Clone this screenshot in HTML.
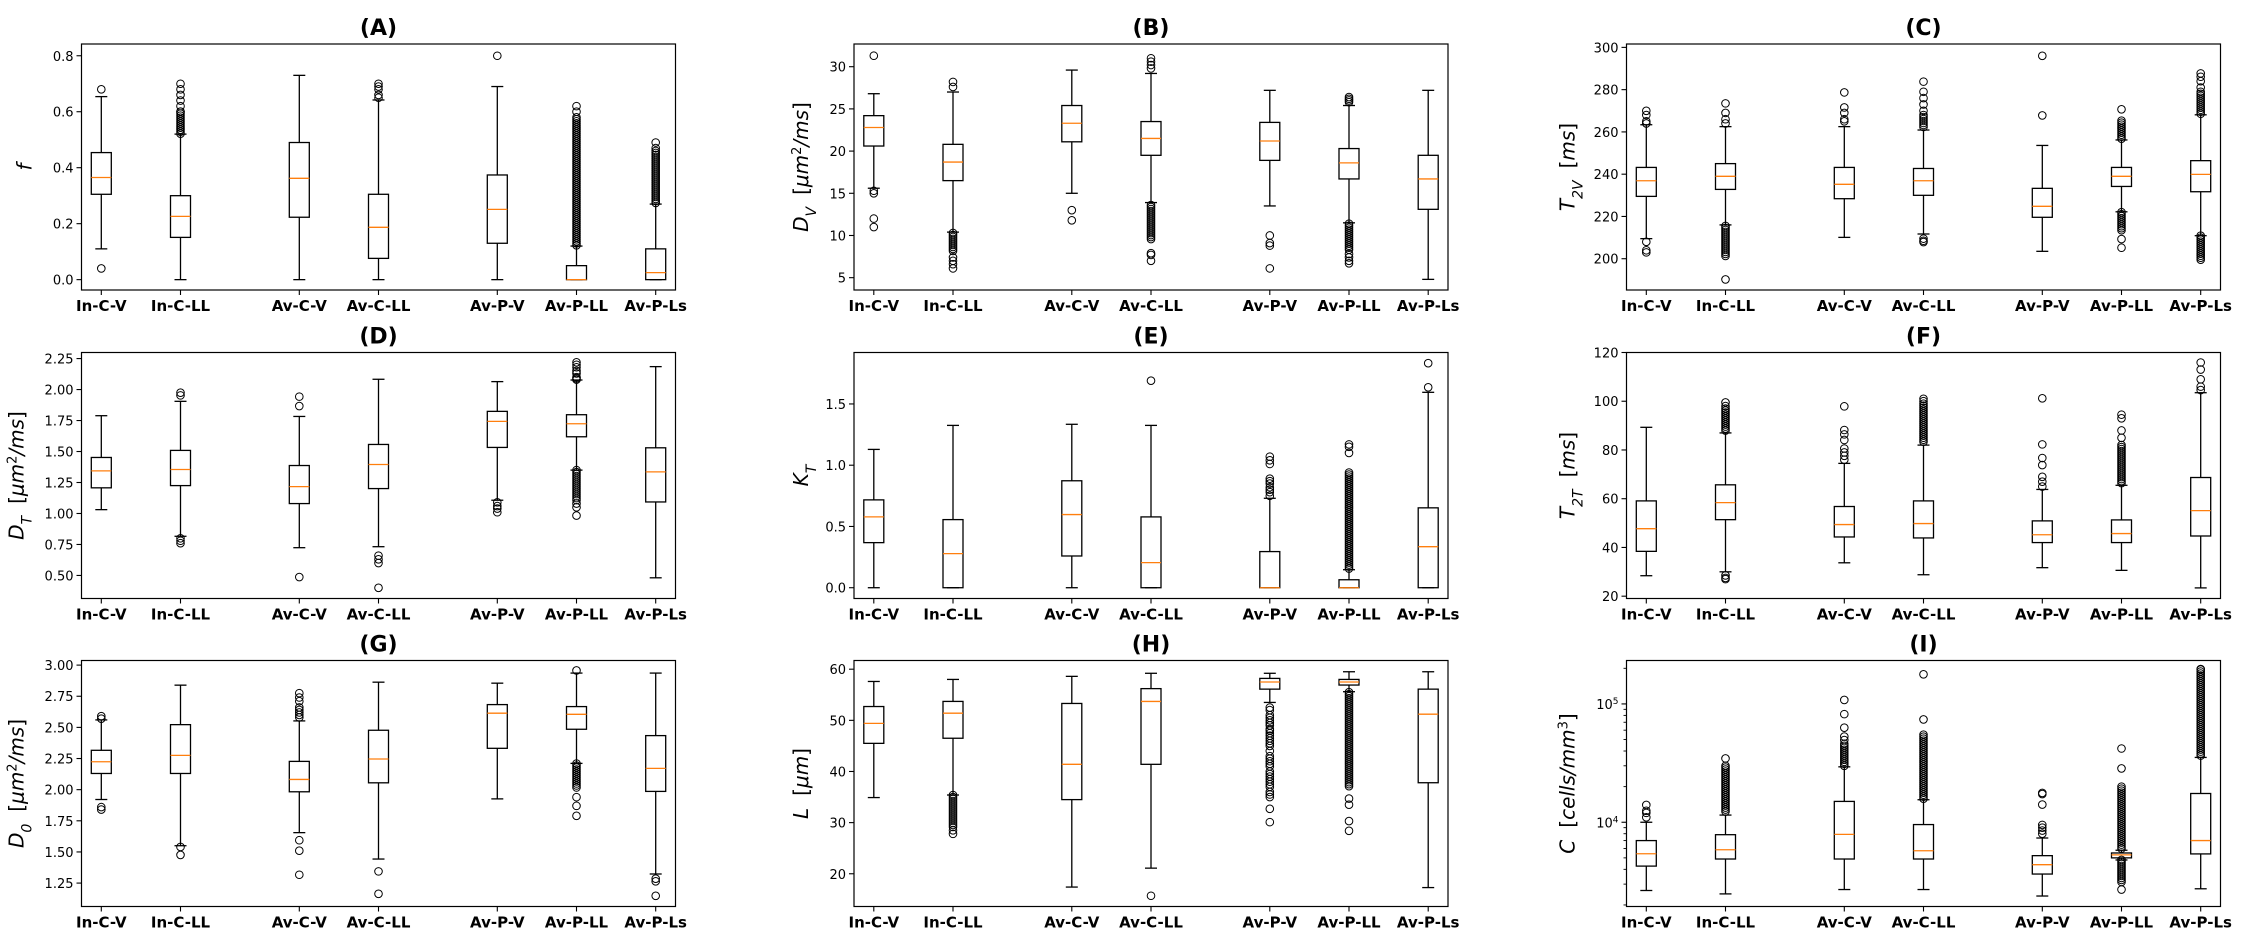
<!DOCTYPE html>
<html><head><meta charset="utf-8"><title>Box plots</title>
<style>
html,body{margin:0;padding:0;background:#fff;}
svg{display:block;font-family:"DejaVu Sans","Liberation Sans",sans-serif;}
</style></head>
<body>
<svg id="fig" width="2245" height="943" viewBox="0 0 2245 943" xmlns="http://www.w3.org/2000/svg"></svg>
<script>
const categories = ["In-C-V","In-C-LL","Av-C-V","Av-C-LL","Av-P-V","Av-P-LL","Av-P-Ls"];
const positions = [1,2,3.5,4.5,6,7,8];

// Panel A : f
const A_lo=[0.11,0.0,0.0,0.0,0.0,0.0,0.0];
const A_q1=[0.305,0.151,0.223,0.076,0.13,0.0,0.0];
const A_med=[0.365,0.226,0.362,0.187,0.251,0.0,0.025];
const A_q3=[0.454,0.30,0.49,0.305,0.374,0.05,0.11];
const A_hi=[0.654,0.52,0.73,0.642,0.69,0.12,0.27];
const A_out=[[0.68,0.04],[0.70,0.68,0.66,0.64,0.62,0.60],[],[0.70,0.69,0.68,0.66,0.65],[0.80],[0.62,0.60],[0.49,0.47]];
const A_dense=[[],[[0.52,0.60]],[],[],[],[[0.12,0.58]],[[0.27,0.46]]];
const A_ticks=[0,0.2,0.4,0.6,0.8];
const A_tickLabels=["0.0","0.2","0.4","0.6","0.8"];

// Panel B : D_V
const B_lo=[15.6,10.4,15.0,13.9,13.5,11.5,4.8];
const B_q1=[20.6,16.5,21.1,19.5,18.9,16.7,13.1];
const B_med=[22.8,18.7,23.3,21.5,21.2,18.6,16.7];
const B_q3=[24.2,20.8,25.4,23.5,23.4,20.3,19.5];
const B_hi=[26.8,27.0,29.6,29.2,27.2,25.4,27.2];
const B_out=[[31.3,15.3,15.0,12.0,11.0],[28.2,27.6,7.4,7.0,6.6,6.1],[13.0,11.8],[31.0,30.6,30.2,29.8,7.9,7.7,7.0],[10.0,9.1,8.8,6.1],[26.4,26.2,26.0,25.8,7.8,7.4,7.0,6.7],[]];
const B_dense=[[],[[8.0,10.3]],[],[[9.5,13.6]],[],[[8.2,11.4]],[]];
const B_ticks=[5,10,15,20,25,30];
const B_tickLabels=["5","10","15","20","25","30"];

// Panel C : T_2V
const C_lo=[209.5,216,210.1,211.7,203.5,222.2,210.9];
const C_q1=[229.5,232.8,228.4,230,219.6,234.2,231.7];
const C_med=[236.9,239,235.2,236.9,224.8,239,239.9];
const C_q3=[243.2,245,243.2,242.7,233.3,243.2,246.4];
const C_hi=[263.4,262.5,262.5,260.9,253.6,256.2,268.1];
const C_out=[[270,268,265,264,208,204,203],[273.5,269,266,264,190.2],[278.7,271.6,269,266,265],[283.8,279,276,273,270,209.5,208.5,207.9],[296,267.8],[270.7,209.3,205.2],[287.7,286.1,284,281]];
const C_dense=[[],[[200.5,215.5]],[],[[261.5,268]],[],[[256.5,265.3],[212.8,222]],[[268,279],[198.6,210.9]]];
const C_ticks=[200,220,240,260,280,300];
const C_tickLabels=["200","220","240","260","280","300"];

// Panel D : D_T
const D_lo=[1.031,0.816,0.724,0.732,1.107,1.35,0.481];
const D_q1=[1.207,1.225,1.08,1.201,1.533,1.619,1.093];
const D_med=[1.344,1.355,1.217,1.395,1.743,1.724,1.336];
const D_q3=[1.452,1.509,1.387,1.557,1.824,1.797,1.53];
const D_hi=[1.789,1.905,1.783,2.083,2.064,2.077,2.185];
const D_out=[[],[1.975,1.953,0.80,0.78,0.76],[1.943,1.867,0.487],[0.66,0.63,0.60,0.40],[1.09,1.06,1.04,1.01],[2.22,2.20,2.18,2.15,2.13,2.10,2.09,2.08,1.08,1.05,0.983],[]];
const D_dense=[[],[],[],[],[],[[1.1,1.35]],[]];
const D_ticks=[0.5,0.75,1.0,1.25,1.5,1.75,2.0,2.25];
const D_tickLabels=["0.50","0.75","1.00","1.25","1.50","1.75","2.00","2.25"];

// Panel E : K_T
const E_lo=[0,0,0,0,0,0,0];
const E_q1=[0.368,0,0.259,0,0,0,0];
const E_med=[0.578,0.278,0.597,0.205,0,0,0.335];
const E_q3=[0.717,0.556,0.873,0.578,0.295,0.065,0.652];
const E_hi=[1.129,1.325,1.334,1.325,0.73,0.147,1.595];
const E_out=[[],[],[],[1.69],[1.07,1.04,1.01,0.89,0.87,0.85,0.82,0.80,0.78,0.75],[1.17,1.15,1.10],[1.636,1.833]];
const E_dense=[[],[],[],[],[],[[0.15,0.94]],[]];
const E_ticks=[0,0.5,1.0,1.5];
const E_tickLabels=["0.0","0.5","1.0","1.5"];

// Panel F : T_2T
const F_lo=[28.4,30.0,33.7,28.8,31.7,30.6,23.4];
const F_q1=[38.4,51.4,44.3,43.9,42,42,44.7];
const F_med=[47.7,58.4,49.4,49.8,45.2,45.7,55.1];
const F_q3=[59.1,65.7,56.8,59.1,50.9,51.3,68.7];
const F_hi=[89.3,87,74.5,82.0,63.8,65.5,103.5];
const F_out=[[],[99.5,98,28.5,27.5,27],[97.9,88.2,86.4,84.1,80.6,79,77.6,76],[101,100],[101.2,82.3,76.7,73.8,69,67,65],[94.5,93,88,85],[115.9,113,109,106,104.6]];
const F_dense=[[],[[87.5,97]],[],[[83,99]],[],[[66,82]],[]];
const F_ticks=[20,40,60,80,100,120];
const F_tickLabels=["20","40","60","80","100","120"];

// Panel G : D_0
const G_lo=[1.921,1.55,1.655,1.443,1.926,2.211,1.323];
const G_q1=[2.13,2.13,1.983,2.055,2.332,2.485,1.986];
const G_med=[2.224,2.275,2.082,2.246,2.614,2.605,2.171];
const G_q3=[2.316,2.522,2.227,2.477,2.683,2.667,2.434];
const G_hi=[2.56,2.839,2.552,2.863,2.855,2.936,2.936];
const G_out=[[2.59,2.57,1.86,1.84],[1.54,1.476],[2.775,2.74,2.71,2.66,2.64,2.62,2.60,2.58,1.594,1.51,1.317],[1.344,1.164],[],[2.957,1.94,1.87,1.79],[1.285,1.264,1.148]];
const G_dense=[[],[],[],[],[],[[2.01,2.21]],[]];
const G_ticks=[1.25,1.5,1.75,2.0,2.25,2.5,2.75,3.0];
const G_tickLabels=["1.25","1.50","1.75","2.00","2.25","2.50","2.75","3.00"];

// Panel H : L
const H_lo=[34.9,35.4,17.4,21.1,53.5,55.6,17.3];
const H_q1=[45.5,46.5,34.5,41.4,56.1,56.9,37.8];
const H_med=[49.4,51.4,41.4,53.7,57.5,57.5,51.2];
const H_q3=[52.7,53.7,53.3,56.2,58.2,58.0,56.1];
const H_hi=[57.6,58.0,58.6,59.2,59.2,59.5,59.5];
const H_out=[[],[28.5,27.8],[],[15.7],[52.5,52,51,50.5,50,49.5,49,48.3,48,47.5,47,46.5,46,45.5,45,44,43,42.5,42,41.5,41,40,39.5,39,38.5,38,37.5,37,36,35.5,35,32.7,30.1],[34.7,33.5,30.3,28.4],[]];
const H_dense=[[],[[29,35.4]],[],[],[],[[37,55.5]],[]];
const H_ticks=[20,30,40,50,60];
const H_tickLabels=["20","30","40","50","60"];

// Panel I : C (log scale)
const I_lo=[2650,2480,2700,2700,2380,4800,2740];
const I_q1=[4260,4890,4890,4890,3650,5000,5400];
const I_med=[5420,5860,7900,5740,4380,5300,7000];
const I_q3=[7000,7850,15000,9560,5220,5500,17500];
const I_hi=[10000,11500,29400,15500,7360,5800,35300];
const I_out=[[14000,12500,12000,11000],[34600,30000],[108000,82000,63000,53000,49500],[178000,74000],[17700,17300,14100,9500,9000,8500,8000],[42000,28500,2700],[197000]];
const I_dense=[[],[[12000,29000]],[[29500,46000]],[[15500,55000]],[],[[5800,20000],[3100,4800]],[[36000,195000]]];
const I_ticks=[10000,100000];
const I_tickLabels=["4","5"];
const I_minorTicks=[2000,3000,4000,5000,6000,7000,8000,9000,20000,30000,40000,50000,60000,70000,80000,90000,200000];

const NS="http://www.w3.org/2000/svg";
const svg=document.getElementById('fig');
const PW=594, PH=246, XMIN=0.75, XMAX=8.25;

function mk(tag,attrs,parent){
  const e=document.createElementNS(NS,tag);
  for(const k in attrs) e.setAttribute(k,attrs[k]);
  (parent||svg).appendChild(e);
  return e;
}

function drawPanel(cfg){
  const g=mk('g',{});
  
  
  const L=cfg.left, T=cfg.top;
  const tf=v=>cfg.log?Math.log10(v):v;
  const y=v=>T+(cfg.ymax-tf(v))/(cfg.ymax-cfg.ymin)*PH;
  const x=p=>L+(p-XMIN)/(XMAX-XMIN)*PW;

  const tt=mk('text',{x:L+PW/2,y:T-9,'text-anchor':'middle','font-size':'22','font-weight':'bold',fill:'#000'},g);
  tt.textContent='('+cfg.id+')';
  
  

  const yl=mk('text',{x:0,y:0,'text-anchor':'middle','font-size':'20',fill:'#000',transform:`translate(${L-cfg.ylabDx},${T+PH/2}) rotate(-90)`},g);
  yl.innerHTML=cfg.ylabel;
  
  

  for(let i=0;i<categories.length;i++){
    const bg=mk('g',{},g);
    
    
    const cx=x(positions[i]);
    const yl1=y(cfg.lo[i]), yq1=y(cfg.q1[i]), ym=y(cfg.med[i]), yq3=y(cfg.q3[i]), yh=y(cfg.hi[i]);
    mk('line',{x1:cx,x2:cx,y1:yq1,y2:yl1,stroke:'#000','stroke-width':1.3},bg);
    mk('line',{x1:cx,x2:cx,y1:yq3,y2:yh,stroke:'#000','stroke-width':1.3},bg);
    mk('line',{x1:cx-6,x2:cx+6,y1:yl1,y2:yl1,stroke:'#000','stroke-width':1.3},bg);
    mk('line',{x1:cx-6,x2:cx+6,y1:yh,y2:yh,stroke:'#000','stroke-width':1.3},bg);
    mk('rect',{x:cx-10,y:yq3,width:20,height:Math.max(0.5,yq1-yq3),fill:'none',stroke:'#000','stroke-width':1.3},bg);
    mk('line',{x1:cx-10,x2:cx+10,y1:ym,y2:ym,stroke:'#ff7f0e','stroke-width':1.3},bg);
    cfg.dense[i].forEach(sp=>{
      const ya=y(sp[1]), yb=y(sp[0]);
      for(let yy=ya; yy<=yb; yy+=2){
        mk('circle',{cx:cx,cy:yy,r:3.8,fill:'none',stroke:'#000','stroke-width':1},bg);
      }
    });
    cfg.out[i].forEach(v=>{
      mk('circle',{cx:cx,cy:y(v),r:3.8,fill:'none',stroke:'#000','stroke-width':1},bg);
    });
  }

  const fr=mk('rect',{x:L,y:T,width:PW,height:PH,fill:'none',stroke:'#000','stroke-width':1.2},g);
  
  

  const ya=mk('g',{},g);
  
  
  cfg.ticks.forEach((v,j)=>{
    const yy=y(v);
    mk('line',{x1:L-5,x2:L,y1:yy,y2:yy,stroke:'#000','stroke-width':1.1},ya);
    const t=mk('text',{x:L-8,y:yy+5,'text-anchor':'end','font-size':'13',fill:'#000'},ya);
    if(cfg.log){ t.innerHTML='10<tspan baseline-shift="super" font-size="9">'+cfg.tickLabels[j]+'</tspan>'; }
    else t.textContent=cfg.tickLabels[j];
  });
  if(cfg.minor){
    cfg.minor.forEach(v=>{
      const yy=y(v);
      if(yy>=T&&yy<=T+PH) mk('line',{x1:L-3,x2:L,y1:yy,y2:yy,stroke:'#000','stroke-width':0.9},ya);
    });
  }
  const xa=mk('g',{},g);
  
  
  categories.forEach((c,i)=>{
    const cx=x(positions[i]);
    mk('line',{x1:cx,x2:cx,y1:T+PH,y2:T+PH+5,stroke:'#000','stroke-width':1.1},xa);
    const t=mk('text',{x:cx,y:T+PH+21,'text-anchor':'middle','font-size':'15','font-weight':'bold',fill:'#000'},xa);
    t.textContent=c;
  });
}

const sub=s=>'<tspan baseline-shift="sub" font-size="14" font-style="italic">'+s+'</tspan>';
const sup=s=>'<tspan baseline-shift="super" font-size="13">'+s+'</tspan>';
const it=s=>'<tspan font-style="italic">'+s+'</tspan>';
const umms='[<tspan font-style="italic">μm</tspan>'+sup('2')+'<tspan font-style="italic">/ms</tspan>]';

const cols=[81.5,854,1626.5], rows=[44,352.5,660.5];
drawPanel({id:'A',left:cols[0],top:rows[0],ymin:-0.037,ymax:0.842,lo:A_lo,q1:A_q1,med:A_med,q3:A_q3,hi:A_hi,out:A_out,dense:A_dense,ticks:A_ticks,tickLabels:A_tickLabels,ylabel:it('f'),ylabDx:50});
drawPanel({id:'B',left:cols[1],top:rows[0],ymin:3.54,ymax:32.69,lo:B_lo,q1:B_q1,med:B_med,q3:B_q3,hi:B_hi,out:B_out,dense:B_dense,ticks:B_ticks,tickLabels:B_tickLabels,ylabel:it('D')+sub('V')+'<tspan dx="12">'+umms+'</tspan>',ylabDx:46});
drawPanel({id:'C',left:cols[2],top:rows[0],ymin:185.2,ymax:301.6,lo:C_lo,q1:C_q1,med:C_med,q3:C_q3,hi:C_hi,out:C_out,dense:C_dense,ticks:C_ticks,tickLabels:C_tickLabels,ylabel:it('T')+sub('2V')+'<tspan dx="12">[<tspan font-style="italic">ms</tspan>]</tspan>',ylabDx:52});
drawPanel({id:'D',left:cols[0],top:rows[1],ymin:0.314,ymax:2.299,lo:D_lo,q1:D_q1,med:D_med,q3:D_q3,hi:D_hi,out:D_out,dense:D_dense,ticks:D_ticks,tickLabels:D_tickLabels,ylabel:it('D')+sub('T')+'<tspan dx="12">'+umms+'</tspan>',ylabDx:58});
drawPanel({id:'E',left:cols[1],top:rows[1],ymin:-0.088,ymax:1.92,lo:E_lo,q1:E_q1,med:E_med,q3:E_q3,hi:E_hi,out:E_out,dense:E_dense,ticks:E_ticks,tickLabels:E_tickLabels,ylabel:it('K')+sub('T'),ylabDx:46});
drawPanel({id:'F',left:cols[2],top:rows[1],ymin:19.05,ymax:120,lo:F_lo,q1:F_q1,med:F_med,q3:F_q3,hi:F_hi,out:F_out,dense:F_dense,ticks:F_ticks,tickLabels:F_tickLabels,ylabel:it('T')+sub('2T')+'<tspan dx="12">[<tspan font-style="italic">ms</tspan>]</tspan>',ylabDx:52});
drawPanel({id:'G',left:cols[0],top:rows[2],ymin:1.062,ymax:3.037,lo:G_lo,q1:G_q1,med:G_med,q3:G_q3,hi:G_hi,out:G_out,dense:G_dense,ticks:G_ticks,tickLabels:G_tickLabels,ylabel:it('D')+sub('0')+'<tspan dx="12">'+umms+'</tspan>',ylabDx:58});
drawPanel({id:'H',left:cols[1],top:rows[2],ymin:13.6,ymax:61.7,lo:H_lo,q1:H_q1,med:H_med,q3:H_q3,hi:H_hi,out:H_out,dense:H_dense,ticks:H_ticks,tickLabels:H_tickLabels,ylabel:it('L')+'<tspan dx="12">[<tspan font-style="italic">μm</tspan>]</tspan>',ylabDx:46});
drawPanel({id:'I',left:cols[2],top:rows[2],ymin:3.288,ymax:5.367,log:true,lo:I_lo,q1:I_q1,med:I_med,q3:I_q3,hi:I_hi,out:I_out,dense:I_dense,ticks:I_ticks,tickLabels:I_tickLabels,minor:I_minorTicks,ylabel:it('C')+'<tspan dx="12">[<tspan font-style="italic">cells/mm</tspan>'+sup('3')+']</tspan>',ylabDx:52});
</script>
</body></html>
